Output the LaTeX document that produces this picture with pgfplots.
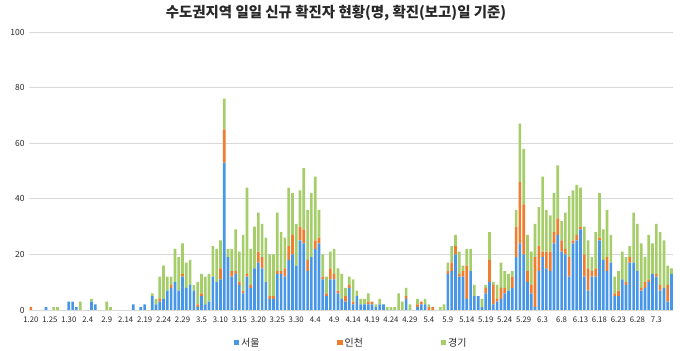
\documentclass[border=0pt]{standalone}
\usepackage{fontspec}
\setmainfont{Noto Sans CJK KR}
\usepackage{pgfplots}
\pgfplotsset{compat=1.18}
\usepackage{pgfplotstable}
\definecolor{cS}{RGB}{72,150,232}
\definecolor{cI}{RGB}{240,125,45}
\definecolor{cG}{RGB}{165,205,105}
\definecolor{gridc}{RGB}{217,217,217}
\definecolor{txt}{RGB}{40,40,40}
\pgfplotstableread{
i S I G
0 0 1 0
1 0 0 0
2 0 0 0
3 0 0 0
4 1 0 0
5 0 0 0
6 0 0 1
7 0 0 1
8 0 0 0
9 0 0 0
10 3 0 0
11 3 0 0
12 1 0 0
13 0 0 3
14 0 0 0
15 0 0 0
16 3 0 1
17 2 0 0
18 0 0 0
19 0 0 0
20 0 0 3
21 0 0 1
22 0 0 0
23 0 0 0
24 0 0 0
25 0 0 0
26 0 0 0
27 2 0 0
28 0 0 0
29 1 0 0
30 2 0 0
31 0 0 0
32 5 0 1
33 2 0 2
34 3 1 8
35 4 0 12
36 7 0 5
37 8 1 3
38 10 0 12
39 7 0 12
40 12 1 11
41 8 0 9
42 9 0 9
43 7 0 2
44 1 1 8
45 5 1 7
46 2 0 10
47 3 0 10
48 12 0 11
49 10 0 12
50 11 4 10
51 53 12 11
52 19 0 3
53 12 2 8
54 13 1 15
55 9 1 11
56 6 1 20
57 12 1 31
58 8 1 13
59 15 0 15
60 17 4 14
61 15 4 12
62 10 0 16
63 4 1 15
64 4 1 15
65 13 1 21
66 13 1 14
67 12 3 11
68 18 5 21
69 20 7 15
70 16 0 15
71 25 5 13
72 24 5 22
73 14 4 18
74 19 0 23
75 22 3 23
76 24 2 10
77 11 1 8
78 5 1 6
79 11 4 6
80 11 2 9
81 6 1 8
82 4 0 9
83 3 2 3
84 8 1 3
85 2 1 8
86 5 0 2
87 2 0 2
88 2 0 2
89 2 1 3
90 2 1 0
91 1 0 1
92 2 0 2
93 2 0 0
94 0 0 1
95 0 0 1
96 0 0 1
97 0 0 6
98 0 0 3
99 4 1 3
100 0 0 2
101 0 0 0
102 1 1 2
103 2 1 0
104 2 0 2
105 0 1 1
106 0 1 0
107 0 0 0
108 0 0 1
109 0 0 2
110 13 1 3
111 14 3 6
112 20 3 4
113 12 1 8
114 12 2 2
115 4 12 6
116 14 0 8
117 5 0 4
118 5 0 0
119 1 0 3
120 6 2 1
121 10 8 10
122 2 7 1
123 3 1 5
124 4 4 9
125 6 2 6
126 7 0 6
127 8 4 2
128 19 11 6
129 24 22 21
130 20 18 20
131 10 4 13
132 6 3 12
133 1 18 12
134 14 9 14
135 19 2 27
136 15 6 15
137 14 7 13
138 24 4 14
139 27 6 19
140 21 4 7
141 20 2 13
142 12 7 22
143 24 1 18
144 25 2 18
145 29 1 14
146 12 8 10
147 7 8 10
148 12 2 5
149 12 3 13
150 25 1 16
151 18 0 11
152 14 5 17
153 17 0 10
154 5 1 6
155 5 2 7
156 11 0 10
157 9 1 9
158 17 2 4
159 17 0 18
160 14 0 17
161 7 1 16
162 8 2 9
163 10 1 16
164 13 0 11
165 12 1 18
166 7 2 19
167 8 0 17
168 3 6 7
169 13 0 2
}\data
\begin{document}
\begin{tikzpicture}
\path[use as bounding box] (0bp,0bp) rectangle (680bp,351bp);
\begin{axis}[
  at={(29bp,41bp)}, anchor=south west,
  scale only axis, width=644.4bp, height=278bp,
  ybar stacked, bar width=0.7,
  xmin=-0.5, xmax=169.5, ymin=0, ymax=100,
  ytick={0,20,...,100},
  xtick={0,5,...,165},
  xticklabels={1.20,1.25,1.30,2.4,2.9,2.14,2.19,2.24,2.29,3.5,3.10,3.15,3.20,3.25,3.30,4.4,4.9,4.14,4.19,4.24,4.29,5.4,5.9,5.14,5.19,5.24,5.29,6.3,6.8,6.13,6.18,6.23,6.28,7.3},
  /pgf/number format/assume math mode=true,
  axis line style={draw=none},
  major tick length=0pt,
  ymajorgrids, grid style={gridc, line width=0.8pt},
  tick label style={font=\fontsize{7.8}{8}\selectfont, text=txt},
  yticklabel style={font=\fontsize{8.5}{9}\selectfont, xshift=-1bp},
  xticklabel style={yshift=-3bp},
  legend columns=3,
  legend style={at={(0.5,-0.118)}, anchor=center, draw=none, fill=none,
    font=\fontsize{10}{11}\selectfont, text=txt,
    /tikz/every even column/.append style={column sep=76bp}},
  legend image code/.code={\fill[#1] (0bp,-2.6bp) rectangle (5.2bp,2.6bp);},
]
\addplot[fill=cS, draw=none] table[x=i, y=S] {\data};
\addplot[fill=cI, draw=none] table[x=i, y=I] {\data};
\addplot[fill=cG, draw=none] table[x=i, y=G] {\data};
\legend{서울, 인천, 경기}
\end{axis}
\node[text=txt, font=\fontsize{14.5}{15}\selectfont\bfseries] at (336bp,338bp) {수도권지역 일일 신규 확진자 현황(명, 확진(보고)일 기준)};
\end{tikzpicture}
\end{document}
